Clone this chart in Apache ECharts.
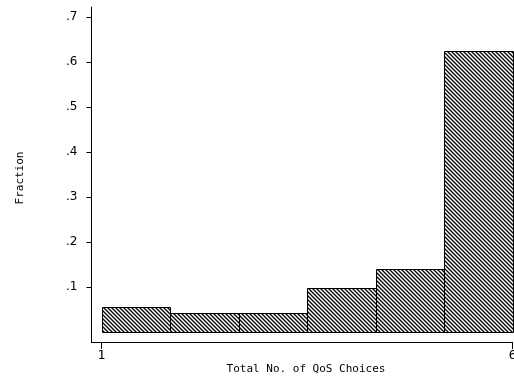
<!DOCTYPE html>
<html>
<head>
<meta charset="utf-8">
<script src="https://cdn.jsdelivr.net/npm/echarts@6/dist/echarts.min.js"></script>
<style>
html,body{margin:0;padding:0;background:#fff;overflow:hidden;}
#c{width:514px;height:376px;}
</style>
</head>
<body>
<div id="c"></div>
<script>
// Data
var binMin = 1;
var binMax = 6;
var fractions = [0.0562, 0.0429, 0.0429, 0.0978, 0.139, 0.624];
var yTickValues = [0.1, 0.2, 0.3, 0.4, 0.5, 0.6, 0.7];
var yTickLabels = ['.1', '.2', '.3', '.4', '.5', '.6', '.7'];
var xTickValues = [1, 6];
var xTickLabels = ['1', '6'];
var xTitle = 'Total No. of QoS Choices';
var yTitle = 'Fraction';

var nBins = fractions.length;
var binW = (binMax - binMin) / nBins;
var binData = fractions.map(function (f, i) {
  return [binMin + i * binW, binMin + (i + 1) * binW, f];
});

// hatch pattern
var pc = document.createElement('canvas');
pc.width = 4; pc.height = 4;
var g = pc.getContext('2d');
g.fillStyle = '#fff';
g.fillRect(0, 0, 4, 4);
g.strokeStyle = '#000';
g.lineWidth = 1.3;
g.beginPath();
g.moveTo(-1, -1); g.lineTo(5, 5);
g.moveTo(-1, 3); g.lineTo(1, 5);
g.moveTo(3, -1); g.lineTo(5, 1);
g.stroke();

var font = 'DejaVu Sans Mono';
var chart = echarts.init(document.getElementById('c'), null, {renderer: 'canvas'});
chart.setOption({
  animation: false,
  backgroundColor: '#fff',
  grid: {left: 91.5, right: 1.3, top: 7, bottom: 34, containLabel: false, outerBoundsMode: 'none'},
  xAxis: {
    type: 'value',
    min: 0.878, max: 6,
    splitLine: {show: false},
    axisLine: {show: true, onZero: false, lineStyle: {color: '#000', width: 1}},
    axisTick: {show: true, customValues: xTickValues, length: 7, inside: false, lineStyle: {color: '#000'}},
    axisLabel: {show: true, customValues: xTickValues, formatter: function (v) {
      var i = xTickValues.indexOf(v); return i >= 0 ? xTickLabels[i] : '';
    }, color: '#000', fontFamily: font, fontSize: 13, margin: 7, showMinLabel: true, showMaxLabel: true, hideOverlap: false}
  },
  yAxis: {
    type: 'value',
    min: -0.0222, max: 0.7222,
    splitLine: {show: false},
    axisLine: {show: true, onZero: false, lineStyle: {color: '#000', width: 1}},
    axisTick: {show: true, customValues: yTickValues, length: 5, lineStyle: {color: '#000'}},
    axisLabel: {show: true, customValues: yTickValues, formatter: function (v) {
      for (var i = 0; i < yTickValues.length; i++) { if (Math.abs(yTickValues[i] - v) < 1e-6) return yTickLabels[i]; }
      return '';
    }, color: '#000', fontFamily: 'DejaVu Sans', fontSize: 12, margin: 14}
  },
  graphic: [
    {type: 'text', x: 306, y: 369, style: {text: xTitle, font: '11px ' + font, fill: '#000', textAlign: 'center', textVerticalAlign: 'middle'}},
    {type: 'text', x: 20, y: 178, rotation: Math.PI / 2, style: {text: yTitle, font: '11px ' + font, fill: '#000', textAlign: 'center', textVerticalAlign: 'middle'}}
  ],
  series: [{
    type: 'custom',
    data: binData,
    encode: {x: [0, 1], y: 2},
    clip: false,
    renderItem: function (params, api) {
      var p0 = api.coord([api.value(0), api.value(2)]);
      var p1 = api.coord([api.value(1), 0]);
      return {
        type: 'rect',
        shape: {x: Math.round(p0[0]) + 0.5, y: Math.round(p0[1]) + 0.5, width: Math.round(p1[0]) - Math.round(p0[0]), height: Math.round(p1[1]) - Math.round(p0[1])},
        style: {fill: {image: pc, repeat: 'repeat'}, stroke: '#000', lineWidth: 1}
      };
    }
  }]
});
</script>
</body>
</html>
